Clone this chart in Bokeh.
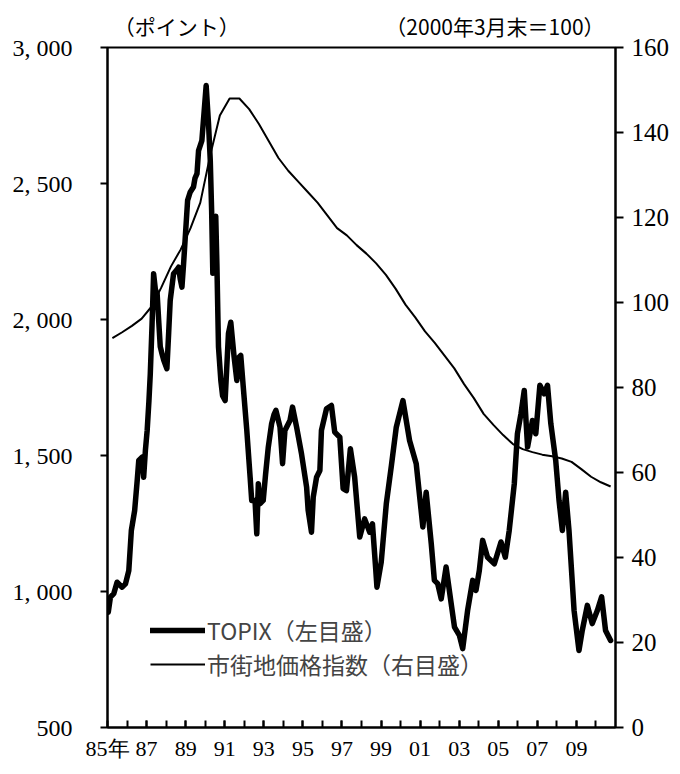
from bokeh.plotting import figure
from bokeh.models import Range1d, LinearAxis, FixedTicker, Legend, LegendItem
from bokeh.embed import file_html
from bokeh.resources import INLINE

# ---------------- data ----------------
topix_year = [1985.04, 1985.15, 1985.32, 1985.49, 1985.75, 1985.92, 1986.09, 1986.22, 1986.39, 1986.52,
              1986.60, 1986.77, 1986.85, 1986.94, 1987.03, 1987.12, 1987.19, 1987.28, 1987.36, 1987.45,
              1987.54, 1987.62, 1987.70, 1987.79, 1987.88, 1988.04, 1988.13, 1988.21, 1988.38, 1988.52,
              1988.64, 1988.72, 1988.81, 1988.89, 1988.97, 1989.10, 1989.23, 1989.40, 1989.48, 1989.58,
              1989.66, 1989.83, 1989.91, 1990.05, 1990.17, 1990.26, 1990.33, 1990.39, 1990.46, 1990.54,
              1990.60, 1990.68, 1990.80, 1990.89, 1991.02, 1991.19, 1991.31, 1991.48, 1991.62, 1991.71,
              1991.82, 1991.95, 1992.13, 1992.30, 1992.38, 1992.55, 1992.64, 1992.72, 1992.81, 1992.97,
              1993.09, 1993.23, 1993.40, 1993.52, 1993.62, 1993.83, 1993.96, 1994.08, 1994.34, 1994.47,
              1994.68, 1994.93, 1995.19, 1995.27, 1995.44, 1995.53, 1995.70, 1995.87, 1995.95, 1996.21,
              1996.46, 1996.63, 1996.89, 1997.06, 1997.23, 1997.43, 1997.65, 1997.91, 1998.16, 1998.42,
              1998.56, 1998.72, 1998.79, 1999.01, 1999.27, 1999.53, 1999.78, 2000.12, 2000.46, 2000.80,
              2001.14, 2001.31, 2001.57, 2001.73, 2001.90, 2002.08, 2002.33, 2002.59, 2002.76, 2003.01,
              2003.18, 2003.43, 2003.69, 2003.86, 2004.03, 2004.20, 2004.45, 2004.80, 2005.14, 2005.36,
              2005.56, 2005.82, 2005.98, 2006.16, 2006.33, 2006.50, 2006.75, 2006.92, 2007.13, 2007.35,
              2007.52, 2007.69, 2007.94, 2008.11, 2008.28, 2008.45, 2008.62, 2008.88, 2009.13, 2009.30,
              2009.56, 2009.81, 2010.07, 2010.29, 2010.49, 2010.75]
topix_value = [924, 979, 992, 1034, 1016, 1028, 1077, 1224, 1298, 1408,
               1482, 1494, 1420, 1519, 1592, 1700, 1800, 1980, 2168, 2110,
               2095, 1996, 1900, 1874, 1850, 1819, 1950, 2070, 2168, 2180,
               2192, 2150, 2119, 2200, 2290, 2438, 2468, 2487, 2520, 2536,
               2621, 2658, 2732, 2860, 2720, 2585, 2400, 2170, 2300, 2380,
               2200, 1900, 1776, 1720, 1702, 1948, 1990, 1862, 1776, 1860,
               1868, 1751, 1592, 1420, 1335, 1335, 1212, 1396, 1323, 1335,
               1430, 1531, 1617, 1650, 1666, 1604, 1470, 1592, 1629, 1678,
               1604, 1506, 1384, 1298, 1218, 1347, 1420, 1445, 1592, 1672,
               1684, 1586, 1567, 1378, 1371, 1525, 1420, 1200, 1267, 1218,
               1249, 1090, 1016, 1108, 1323, 1463, 1604, 1702, 1555, 1470,
               1237, 1365, 1176, 1041, 1029, 973, 1090, 955, 869, 839,
               790, 930, 1041, 1004, 1077, 1188, 1126, 1102, 1182, 1126,
               1224, 1396, 1580, 1653, 1739, 1531, 1629, 1580, 1758, 1727,
               1758, 1617, 1482, 1335, 1224, 1365, 1224, 930, 783, 857,
               949, 882, 930, 980, 857, 820]

land_year = [1985.25, 1985.75, 1986.25, 1986.75, 1987.25, 1987.75, 1988.25, 1988.75, 1989.25, 1989.75,
             1990.25, 1990.75, 1991.25, 1991.75, 1992.25, 1992.75, 1993.25, 1993.75, 1994.25, 1994.75,
             1995.25, 1995.75, 1996.25, 1996.75, 1997.25, 1997.75, 1998.25, 1998.75, 1999.25, 1999.75,
             2000.25, 2000.75, 2001.25, 2001.75, 2002.25, 2002.75, 2003.25, 2003.75, 2004.25, 2004.75,
             2005.25, 2005.75, 2006.25, 2006.75, 2007.25, 2007.75, 2008.25, 2008.75, 2009.25, 2009.75,
             2010.25, 2010.75]
land_value = [91.6, 93.0, 94.5, 96.2, 99.0, 103.5, 108.5, 112.5, 117.5, 123.5,
              134.5, 144.0, 148.0, 148.0, 145.5, 142.0, 138.0, 134.0, 131.0, 128.5,
              126.0, 123.5, 120.5, 117.5, 115.8, 113.5, 111.5, 109.2, 106.5, 103.2,
              99.5, 96.5, 93.2, 90.5, 87.5, 84.5, 80.8, 77.5, 73.8, 71.2,
              68.8, 66.7, 65.5, 64.8, 64.2, 63.8, 63.3, 62.5, 60.8, 59.0,
              57.7, 56.7]

left_ticks = [500, 1000, 1500, 2000, 2500, 3000]
left_tick_labels = ["500", "1, 000", "1, 500", "2, 000", "2, 500", "3, 000"]
right_ticks = [0, 20, 40, 60, 80, 100, 120, 140, 160]
year_ticks = [1985, 1987, 1989, 1991, 1993, 1995, 1997, 1999, 2001, 2003, 2005, 2007, 2009]
year_tick_labels = ["85年", "87", "89", "91", "93", "95", "97", "99", "01", "03", "05", "07", "09"]
year_minor_ticks = list(range(1986, 2011))

left_title = "（ポイント）"
right_title = "（2000年3月末＝100）"
topix_name = "TOPIX（左目盛）"
land_name = "市街地価格指数（右目盛）"

NUM_FONT = "Liberation Serif"
JP_FONT = "Noto Sans CJK JP"

X0, X1 = 1985, 2011

# ---------------- figure ----------------
p = figure(width=672, height=766, output_backend="svg", toolbar_location=None,
           x_range=Range1d(X0, X1), y_range=Range1d(500, 3000),
           min_border_left=107, min_border_right=55, min_border_top=47, min_border_bottom=39)
p.extra_y_ranges = {"land": Range1d(0, 160)}
p.extra_x_ranges = {"top": Range1d(X0, X1)}
p.xgrid.visible = False
p.ygrid.visible = False
p.outline_line_color = "black"
p.outline_line_width = 2
p.background_fill_color = "white"
p.border_fill_color = "white"

# bottom axis
xa = p.xaxis[0]
xa.ticker = FixedTicker(ticks=year_ticks, minor_ticks=year_minor_ticks)
xa.major_label_overrides = {t: l for t, l in zip(year_ticks, year_tick_labels)}
xa.major_tick_in = 7
xa.major_tick_out = 0
xa.minor_tick_in = 7
xa.minor_tick_out = 0
xa.axis_line_width = 2
xa.major_tick_line_width = 2
xa.minor_tick_line_width = 2
xa.major_label_text_font = NUM_FONT
xa.major_label_text_font_size = "22px"
xa.major_label_text_color = "black"
xa.major_label_standoff = 8

# left axis
ya = p.yaxis[0]
ya.ticker = FixedTicker(ticks=left_ticks, minor_ticks=[])
ya.major_label_overrides = {t: l for t, l in zip(left_ticks, left_tick_labels)}
ya.major_tick_in = 0
ya.major_tick_out = 7
ya.axis_line_width = 2
ya.major_tick_line_width = 2
ya.major_label_text_font = NUM_FONT
ya.major_label_text_font_size = "24px"
ya.major_label_text_color = "black"
ya.major_label_standoff = 28

# right axis
ra = LinearAxis(y_range_name="land", ticker=FixedTicker(ticks=right_ticks, minor_ticks=[]))
ra.major_tick_in = 0
ra.major_tick_out = 8
ra.axis_line_width = 2
ra.major_tick_line_width = 2
ra.major_label_text_font = NUM_FONT
ra.major_label_text_font_size = "25px"
ra.major_label_text_color = "black"
ra.major_label_standoff = 8
p.add_layout(ra, "right")

# unit captions above the frame, drawn as labels of a bare top axis
left_title_at = X0 + 3.54
right_title_at = X0 + 19.83
ta = LinearAxis(x_range_name="top",
                ticker=FixedTicker(ticks=[left_title_at, right_title_at], minor_ticks=[]),
                major_label_overrides={left_title_at: left_title, right_title_at: right_title})
ta.axis_line_color = None
ta.major_tick_line_color = None
ta.minor_tick_line_color = None
ta.major_tick_in = 0
ta.major_tick_out = 0
ta.major_label_text_font = JP_FONT
ta.major_label_text_font_size = "21px"
ta.major_label_text_color = "black"
ta.major_label_standoff = 7
p.add_layout(ta, "above")

# lines
r_topix = p.line(topix_year, topix_value, line_width=5.5, line_color="black", line_join="round", line_cap="round")
r_land = p.line(land_year, land_value, line_width=2, line_color="black", y_range_name="land", line_join="round")

legend = Legend(items=[LegendItem(label=topix_name, renderers=[r_topix]),
                       LegendItem(label=land_name, renderers=[r_land])],
                location=(43, 46), glyph_width=55, glyph_height=26, label_height=26,
                label_standoff=2, spacing=-3, padding=0, margin=0,
                label_text_font=JP_FONT, label_text_font_size="23px",
                border_line_alpha=0, background_fill_alpha=0)
p.add_layout(legend, "center")

open("out.html", "w").write(file_html(p, INLINE))
